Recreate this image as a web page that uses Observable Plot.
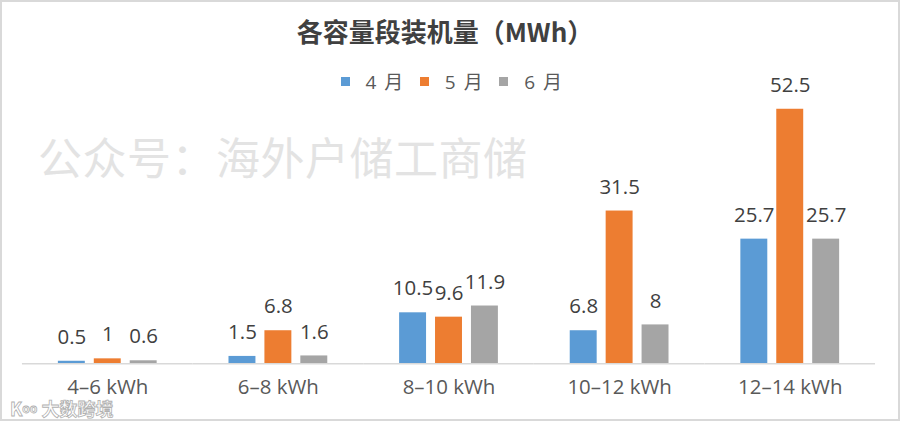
<!DOCTYPE html>
<html>
<head>
<meta charset="utf-8">
<script src="https://cdn.jsdelivr.net/npm/d3@7"></script>
<script src="https://cdn.jsdelivr.net/npm/@observablehq/plot@0.6"></script>
<style>
  html, body { margin:0; padding:0; background:#fff; }
  #wrap { position:relative; width:900px; height:421px; box-sizing:border-box; border:2px solid #d9d9d9; overflow:hidden;
          font-family:"Open Sans","Noto Sans CJK SC",sans-serif; }
  #chart { position:absolute; left:-2px; top:-2px; }
  #title { position:absolute; left:0; width:886px; top:10px; text-align:center; font-size:26px; font-weight:bold; color:#404040;
           font-family:"Noto Sans CJK SC","Open Sans",sans-serif; }
  #legend { position:absolute; left:0; width:900px; top:65px; display:flex; justify-content:center; gap:15px; font-size:19px; color:#595959;
            font-family:"Open Sans","Noto Sans CJK SC",sans-serif; box-sizing:border-box; }
  #legend span.item { display:flex; align-items:center; gap:16px; }
  #legend span.txt { letter-spacing:1.5px; white-space:pre; }
  #legend span.sw { width:9px; height:9px; display:inline-block; }
  #wm { position:absolute; left:36px; top:122px; font-size:44px; color:#e3e3e3; font-family:"Noto Sans CJK SC",sans-serif; letter-spacing:0.5px; }
  #logo { position:absolute; left:8px; top:396px; font-size:18px; line-height:20px; color:#fff; font-weight:bold; font-family:"Noto Sans CJK SC",sans-serif;
          -webkit-text-stroke:0.8px #b0b0b0; }
</style>
</head>
<body>
<div id="wrap">
  <div id="wm">公众号：海外户储工商储</div>
  <div id="chart"></div>
  <div id="title">各容量段装机量（MWh）</div>
  <div id="legend"></div>
  <div id="logo">K<span style="font-size:12px;vertical-align:top">oo</span>&nbsp;大数跨境</div>
</div>
<script>
const categories = ["4–6 kWh", "6–8 kWh", "8–10 kWh", "10–12 kWh", "12–14 kWh"];
const months = ["4月", "5月", "6月"];
const legendLabels = ["4 月", "5 月", "6 月"];
const aprValues = [0.5, 1.5, 10.5, 6.8, 25.7];
const mayValues = [1, 6.8, 9.6, 31.5, 52.5];
const junValues = [0.6, 1.6, 11.9, 8, 25.7];
const colors = ["#5B9BD5", "#ED7D31", "#A5A5A5"];

const series = [aprValues, mayValues, junValues];
const data = [];
categories.forEach((c, i) => {
  months.forEach((m, j) => data.push({cat: c, month: m, value: series[j][i]}));
});

const chart = Plot.plot({
  width: 900,
  height: 421,
  marginLeft: 20,
  marginRight: 22,
  marginTop: 109,
  marginBottom: 57,
  style: {fontFamily: "'Open Sans','Noto Sans CJK SC',sans-serif", background: "transparent"},
  fx: {domain: categories, padding: 0, label: null},
  x: {domain: months, paddingInner: 0.247, paddingOuter: 0.974, axis: null},
  y: {domain: [0, 52.5], axis: null},
  color: {domain: months, range: colors},
  marks: [
    Plot.barY(data, {fx: "cat", x: "month", y: "value", fill: "month"}),
    Plot.ruleY([0], {stroke: "#d9d9d9", strokeWidth: 1.5}),
    Plot.text(data, {fx: "cat", x: "month", y: "value", text: d => String(d.value), dy: -24, fontSize: 20.5, fill: "#404040"}),
    Plot.axisFx({anchor: "bottom", tickSize: 0, tickPadding: 16, fontSize: 20.5, fill: "#595959", label: null})
  ]
});
document.getElementById("chart").appendChild(chart);

const legend = document.getElementById("legend");
months.forEach((m, i) => {
  const it = document.createElement("span");
  it.className = "item";
  it.innerHTML = `<span class="sw" style="background:${colors[i]}"></span><span class="txt">${legendLabels[i]}</span>`;
  legend.appendChild(it);
});
</script>
</body>
</html>
